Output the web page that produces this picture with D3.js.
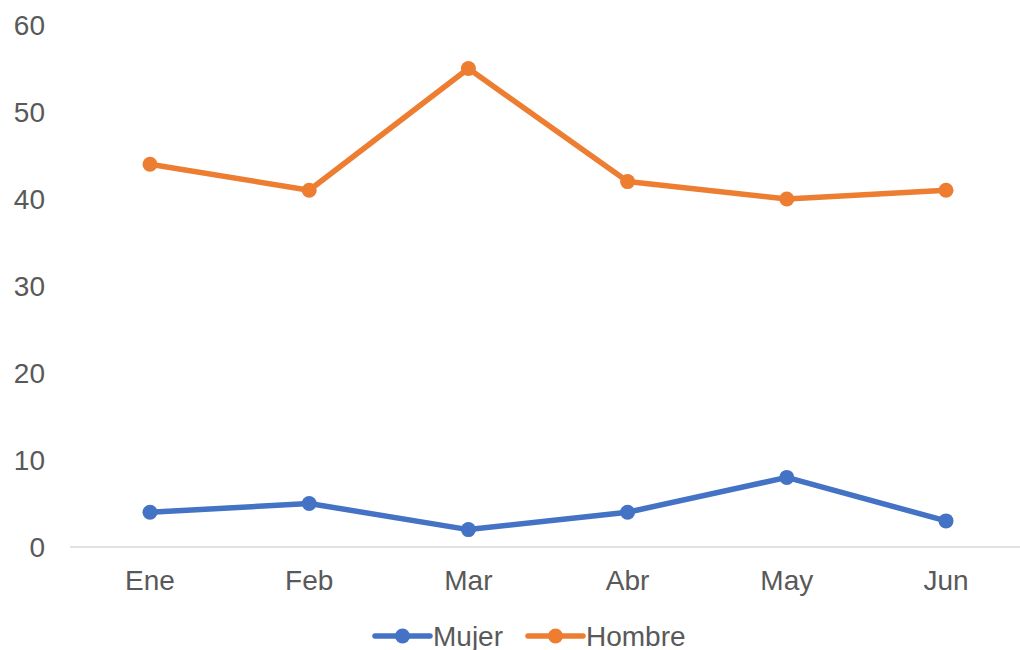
<!DOCTYPE html>
<html>
<head>
<meta charset="utf-8">
<script src="https://cdn.jsdelivr.net/npm/d3@7"></script>
<style>
  body { margin: 0; background: #fff; }
  text { font-family: "Liberation Sans", Arial, sans-serif; fill: #595959; }
</style>
</head>
<body>
<div id="chart"></div>
<script>
const months = ['Ene', 'Feb', 'Mar', 'Abr', 'May', 'Jun'];
const mujer = [4, 5, 2, 4, 8, 3];
const hombre = [44, 41, 55, 42, 40, 41];
const yTicks = [0, 10, 20, 30, 40, 50, 60];
const seriesNames = ['Mujer', 'Hombre'];
const seriesColors = ['#4472C4', '#ED7D31'];

const W = 1020, H = 650;
const svg = d3.select('#chart').append('svg')
    .attr('width', W).attr('height', H);

const x = d3.scalePoint()
    .domain(months)
    .range([150, 946]);

const y = d3.scaleLinear()
    .domain([0, 60])
    .range([547, 25]);

// y axis labels (no line)
svg.append('g').selectAll('text')
    .data(yTicks)
    .enter().append('text')
    .attr('x', 45)
    .attr('y', d => y(d))
    .attr('dy', '0.35em')
    .attr('text-anchor', 'end')
    .style('font-size', '28px')
    .text(d => d);

// baseline
svg.append('line')
    .attr('x1', 70).attr('x2', 1020)
    .attr('y1', y(0)).attr('y2', y(0))
    .attr('stroke', '#d9d9d9')
    .attr('stroke-width', 1.5);

// x labels
svg.append('g').selectAll('text')
    .data(months)
    .enter().append('text')
    .attr('x', d => x(d))
    .attr('y', 580)
    .attr('dy', '0.35em')
    .attr('text-anchor', 'middle')
    .style('font-size', '28px')
    .text(d => d);

const line = d3.line()
    .x((d, i) => x(months[i]))
    .y(d => y(d));

[mujer, hombre].forEach(function(vals, k) {
    const g = svg.append('g');
    g.append('path')
        .datum(vals)
        .attr('d', line)
        .attr('fill', 'none')
        .attr('stroke', seriesColors[k])
        .attr('stroke-width', 5.5)
        .attr('stroke-linejoin', 'round')
        .attr('stroke-linecap', 'round');
    g.selectAll('circle')
        .data(vals)
        .enter().append('circle')
        .attr('cx', (d, i) => x(months[i]))
        .attr('cy', d => y(d))
        .attr('r', 7.5)
        .attr('fill', seriesColors[k]);
});

// legend
const legendX = [375, 528];
const legend = svg.append('g').selectAll('g')
    .data(seriesNames)
    .enter().append('g')
    .attr('transform', (d, i) => 'translate(' + legendX[i] + ',636)');
legend.append('line')
    .attr('x1', 0).attr('x2', 55)
    .attr('stroke', (d, i) => seriesColors[i])
    .attr('stroke-width', 5.5)
    .attr('stroke-linecap', 'round');
legend.append('circle')
    .attr('cx', 27.5)
    .attr('r', 7.5)
    .attr('fill', (d, i) => seriesColors[i]);
legend.append('text')
    .attr('x', 58)
    .attr('dy', '0.35em')
    .style('font-size', '28px')
    .text(d => d);
</script>
</body>
</html>
